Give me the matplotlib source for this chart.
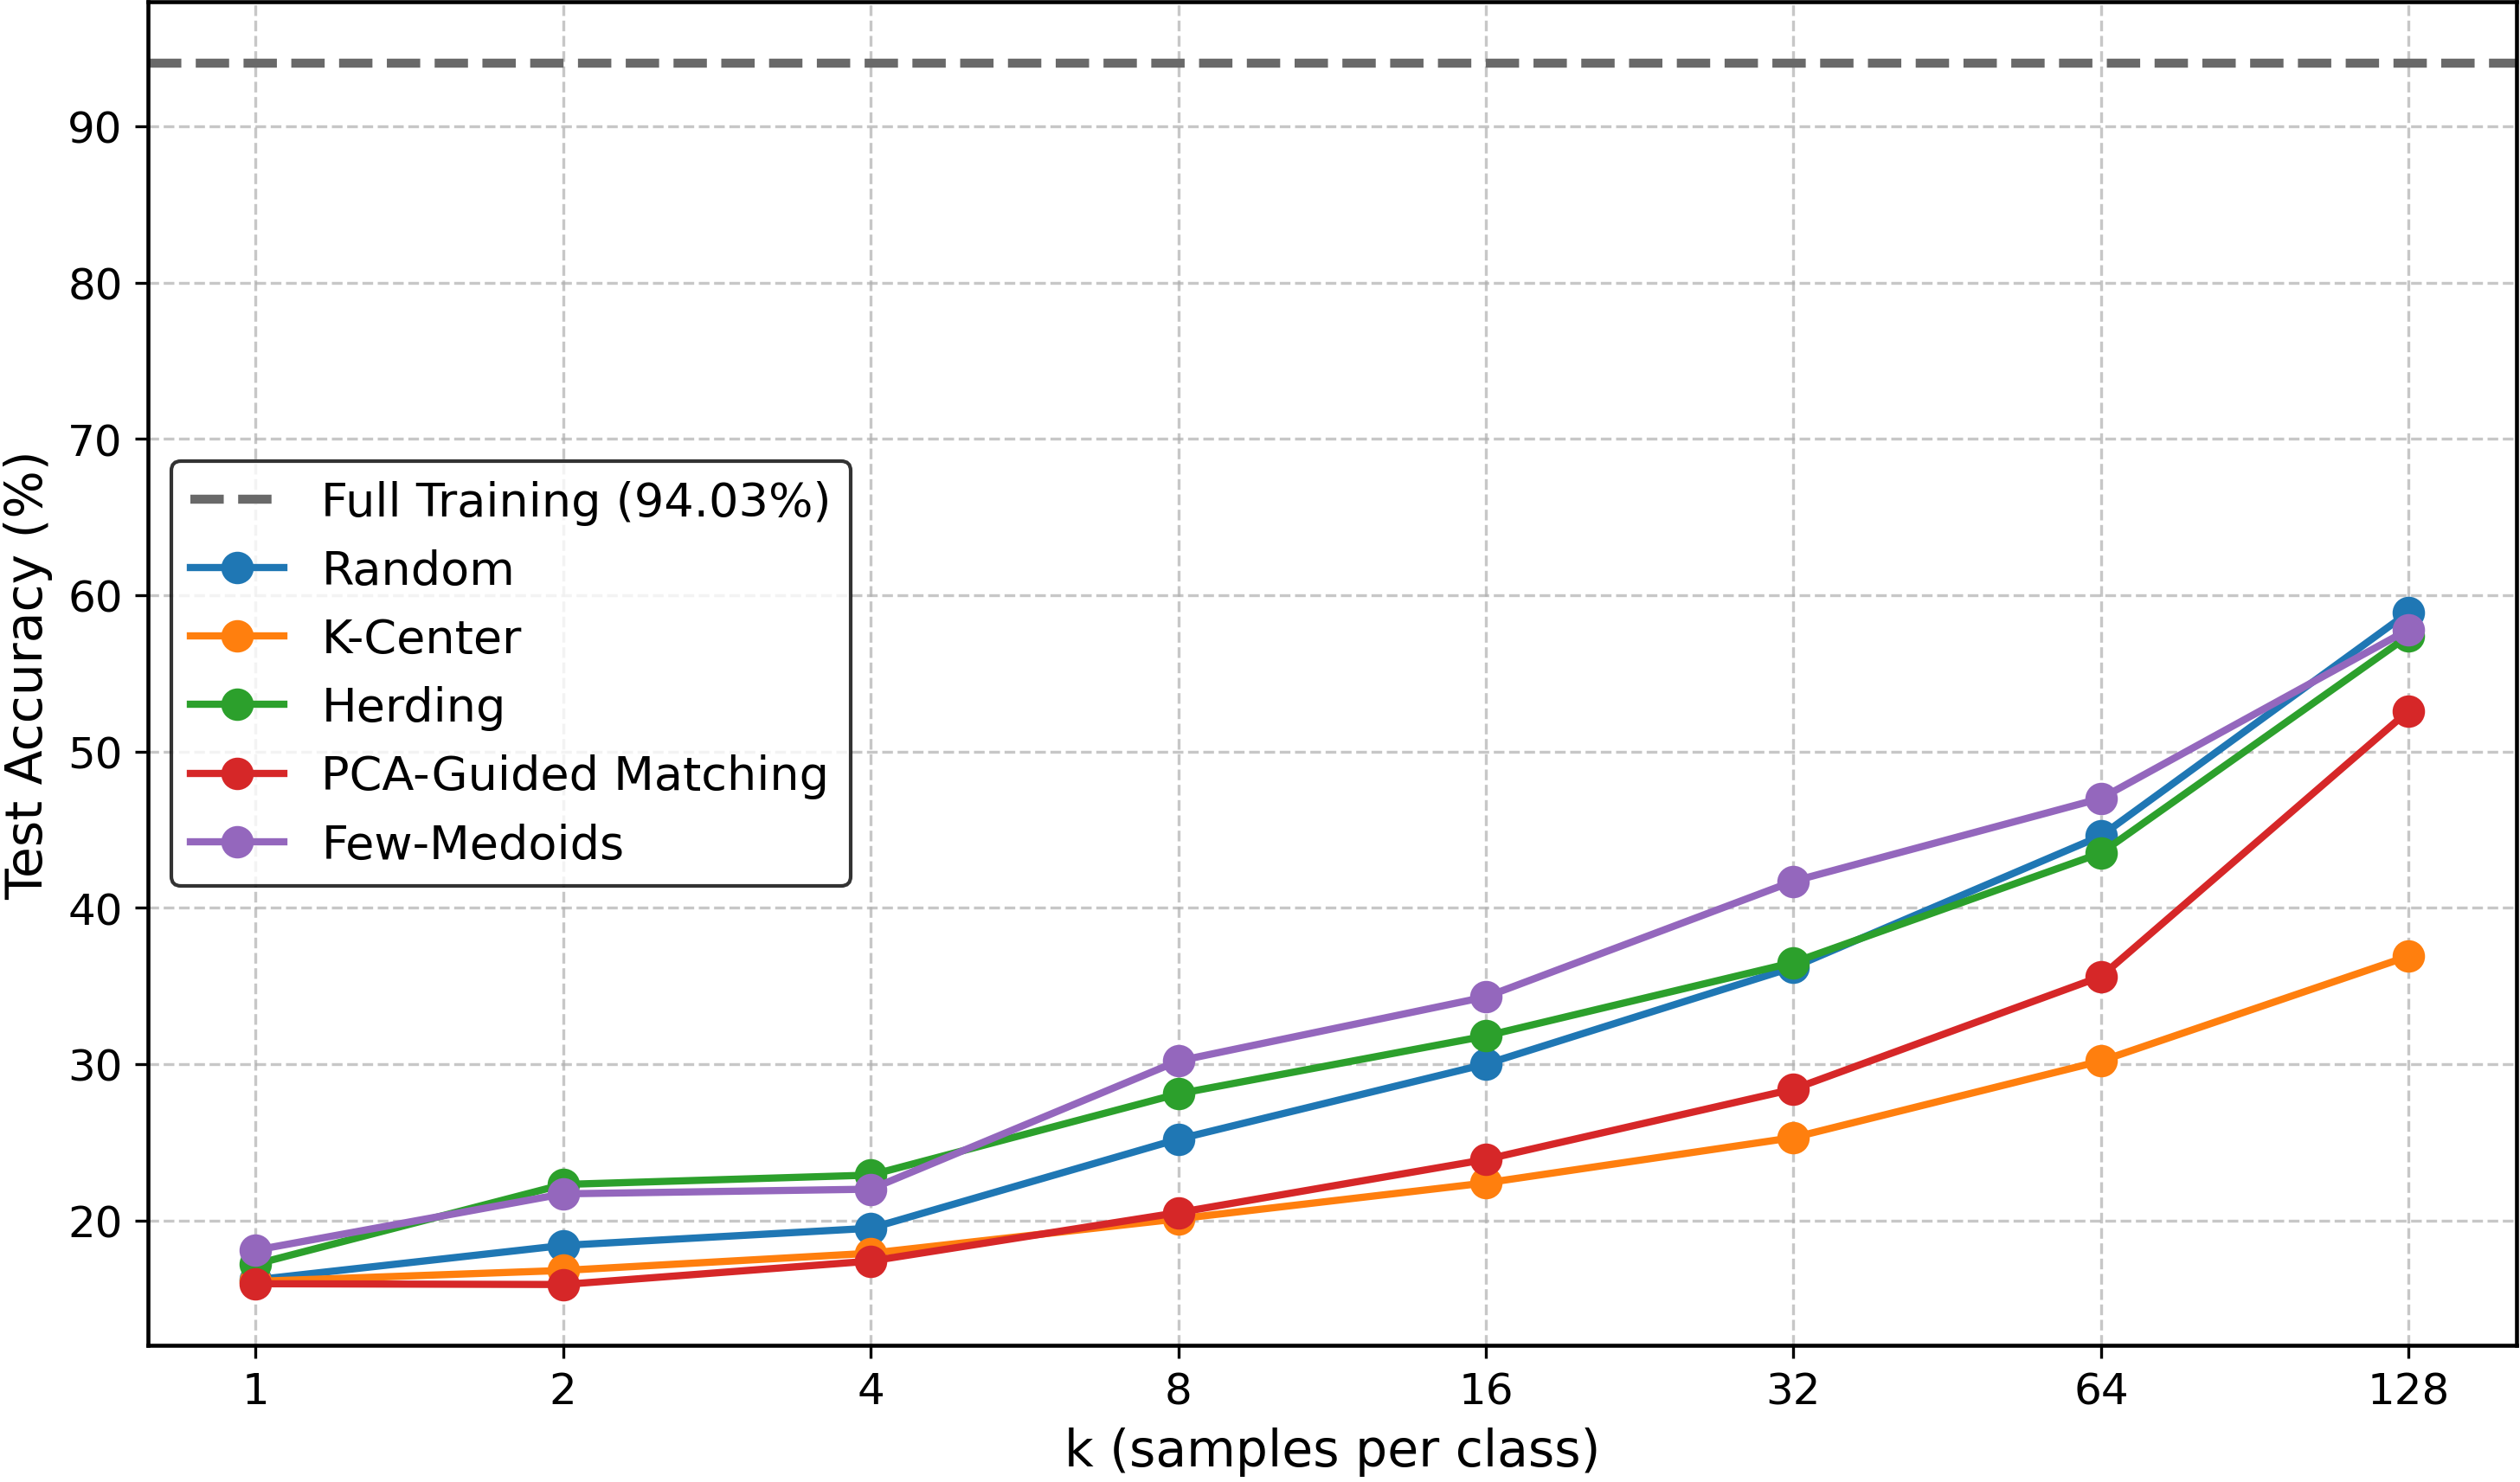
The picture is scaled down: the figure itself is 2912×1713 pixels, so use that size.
import matplotlib.pyplot as plt
import numpy as np

# samples per class
ks = [1, 2, 4, 8, 16, 32, 64, 128]
full_acc = 94.03

random_acc = [16.2, 18.4, 19.5, 25.2, 30.0, 36.2, 44.6, 58.9]
kcenter_acc = [16.1, 16.8, 17.9, 20.1, 22.4, 25.3, 30.2, 36.9]
herding_acc = [17.2, 22.3, 22.9, 28.1, 31.8, 36.5, 43.5, 57.4]
pca_acc = [15.95, 15.9, 17.4, 20.5, 23.9, 28.4, 35.6, 52.6]
medoids_acc = [18.1, 21.7, 22.0, 30.2, 34.3, 41.7, 47.0, 57.8]

methods = ["Random", "K-Center", "Herding", "PCA-Guided Matching", "Few-Medoids"]
results = [random_acc, kcenter_acc, herding_acc, pca_acc, medoids_acc]
colors = ["#1f77b4", "#ff7f0e", "#2ca02c", "#d62728", "#9467bd"]

plt.rcParams["font.size"] = 12
fig, ax = plt.subplots(figsize=(2912 / 300, 1714 / 300), dpi=300)
fig.subplots_adjust(left=0.0587, right=0.9985, top=0.998, bottom=0.092)

ax.axhline(full_acc, color="dimgray", linestyle="--", linewidth=2.5,
           label=f"Full Training ({full_acc:.2f}%)")
for name, acc, c in zip(methods, results, colors):
    ax.plot(ks, acc, marker="o", markersize=8, linewidth=2, color=c, label=name)

ax.set_xscale("log", base=2)
ax.set_xticks(ks)
ax.set_xticklabels([str(k) for k in ks])
ax.minorticks_off()
ax.set_xlabel("k (samples per class)", fontsize=14)
ax.set_ylabel("Test Accuracy (%)", fontsize=14)
ax.grid(True, linestyle="--", alpha=0.7)
for s in ax.spines.values():
    s.set_linewidth(1.1)

leg = ax.legend(loc="center left", fontsize=13, edgecolor="black")

fig.savefig("out.png", dpi=300)
